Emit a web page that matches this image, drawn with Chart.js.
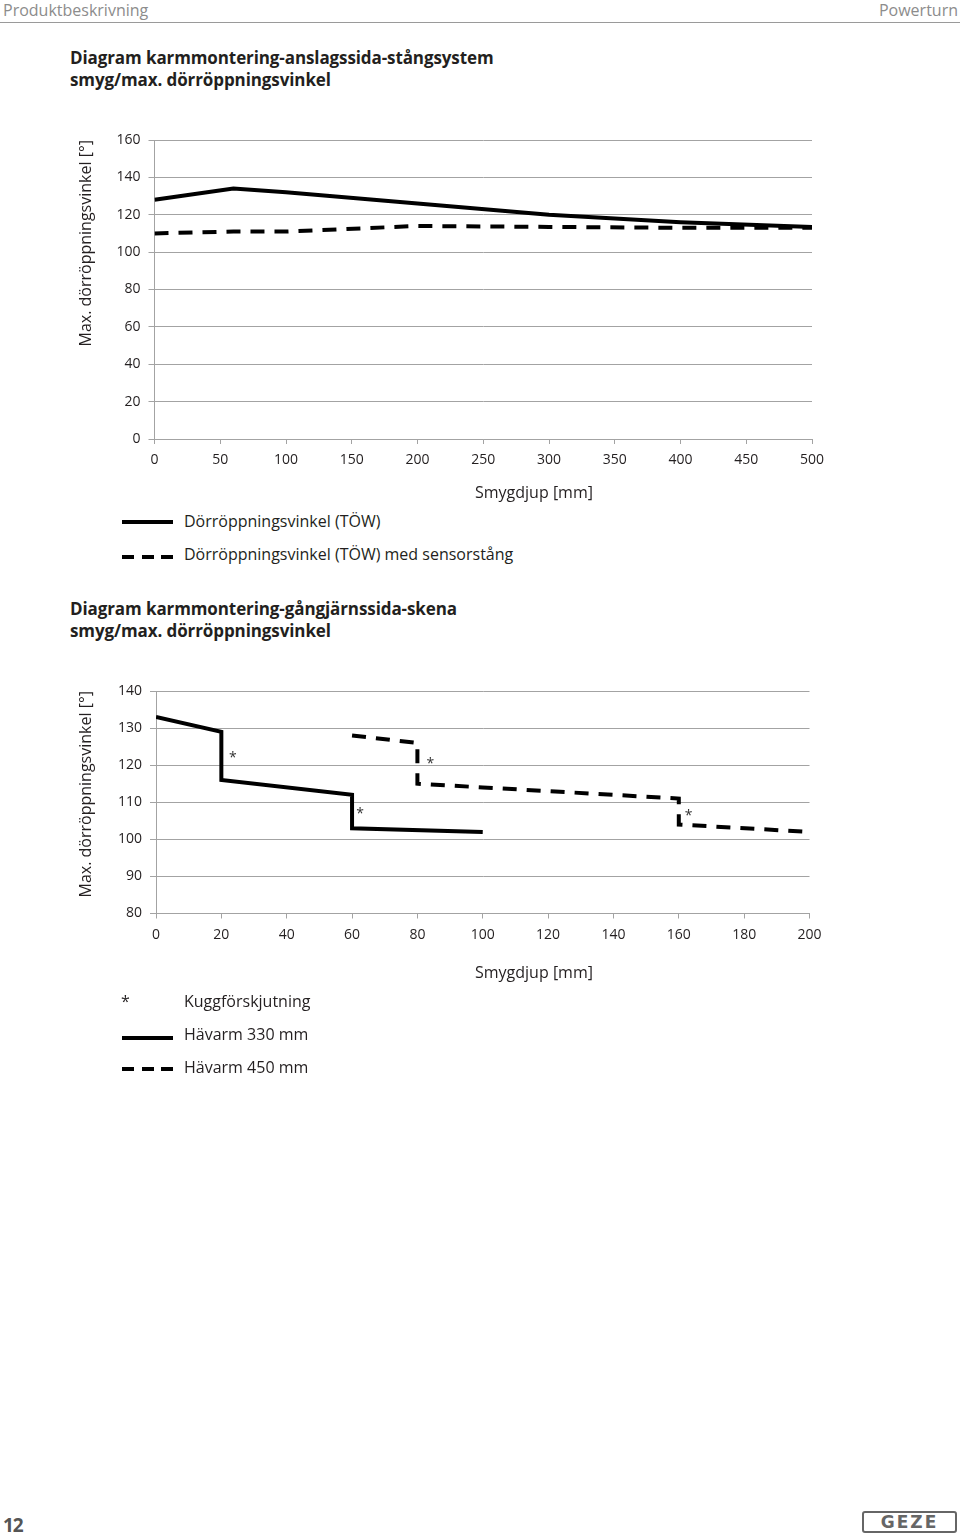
<!DOCTYPE html>
<html>
<head>
<meta charset="utf-8">
<script src="https://cdn.jsdelivr.net/npm/chart.js@4.4.0/dist/chart.umd.min.js"></script>
<style>
  body { margin: 0; background: #fff; font-family: "Open Sans", "Noto Sans", sans-serif; color: #231f20; }
  .page { position: relative; width: 960px; height: 1535px; overflow: hidden; }
  .abs { position: absolute; white-space: nowrap; }
  .head { font-size: 16px; color: #8c8c8c; top: 0; line-height: 20px; }
  .rule { left: 0; top: 22px; width: 960px; height: 1px; background: #9a9a9a; }
  .title { left: 70px; font-weight: 700; font-size: 17px; line-height: 22px; letter-spacing: -0.1px; }
  .txt { font-size: 16px; line-height: 20px; }
  .solid { height: 4px; width: 51px; background: #000; left: 122px; }
  .dash { height: 4px; width: 12px; background: #000; }
  canvas { position: absolute; left: 0; }
</style>
</head>
<body>
<div class="page">
  <div class="abs head" style="left:3px">Produktbeskrivning</div>
  <div class="abs head" style="right:2px">Powerturn</div>
  <div class="abs rule"></div>

  <div class="abs title" style="top:47px">Diagram karmmontering-anslagssida-stångsystem<br>smyg/max. dörröppningsvinkel</div>
  <canvas id="chart1" width="960" height="380" style="top:110px"></canvas>
  <div class="abs txt" style="left:475px;top:482px">Smygdjup [mm]</div>
  <div class="abs solid" style="top:520px"></div>
  <div class="abs txt" style="left:184px;top:511px">Dörröppningsvinkel (TÖW)</div>
  <div class="abs dash" style="left:122px;top:555px"></div>
  <div class="abs dash" style="left:142px;top:555px"></div>
  <div class="abs dash" style="left:161px;top:555px"></div>
  <div class="abs txt" style="left:184px;top:544px">Dörröppningsvinkel (TÖW) med sensorstång</div>

  <div class="abs title" style="top:598px">Diagram karmmontering-gångjärnssida-skena<br>smyg/max. dörröppningsvinkel</div>
  <canvas id="chart2" width="960" height="340" style="top:660px"></canvas>
  <div class="abs txt" style="left:475px;top:962px">Smygdjup [mm]</div>
  <div class="abs txt" style="left:121px;top:991px">*</div>
  <div class="abs txt" style="left:184px;top:991px">Kuggförskjutning</div>
  <div class="abs solid" style="top:1036px"></div>
  <div class="abs txt" style="left:184px;top:1024px">Hävarm 330 mm</div>
  <div class="abs dash" style="left:122px;top:1067px"></div>
  <div class="abs dash" style="left:142px;top:1067px"></div>
  <div class="abs dash" style="left:161px;top:1067px"></div>
  <div class="abs txt" style="left:184px;top:1057px">Hävarm 450 mm</div>

  <div class="abs" style="left:3px;top:1512px;font-size:19px;font-weight:700;color:#555;letter-spacing:-1px">12</div>
  <div class="abs" style="left:862px;top:1511px;width:91px;height:18px;border:2px solid #666;border-radius:3px;text-align:center;font:700 17px/18px 'DejaVu Sans',sans-serif;color:#666;letter-spacing:2px">GEZE</div>
</div>

<script>
// chart 1: anslagssida-stångsystem
const smygX1 = [0, 60, 100, 200, 300, 400, 500];
const towSolid = [128, 134, 132, 126, 120, 116, 113.5];
const towSensor = [110, 111, 111, 114, 113.5, 113, 113];
const yTicks1 = [0, 160, 20];
const xTicks1 = [0, 500, 50];

// chart 2: gångjärnssida-skena
const hav330X = [0, 20, 20, 60, 60, 100];
const hav330Y = [133, 129, 116, 112, 103, 102];
const hav450X = [60, 80, 80, 100, 160, 160, 200];
const hav450Y = [128, 126, 115, 114, 111, 104, 102];
const starX = [23.5, 62.5, 84, 163];
const starY = [123, 108, 121.5, 107.5];
const yTicks2 = [80, 140, 10];
const xTicks2 = [0, 200, 20];

const gridGray = "#a3a3a3";
const tickFont = { family: "'Open Sans', 'Noto Sans', sans-serif", size: 14 };
const titleFont = { family: "'Open Sans', 'Noto Sans', sans-serif", size: 16 };

function pts(xs, ys) {
    return xs.map((x, i) => ({ x: x, y: ys[i] }));
}

function lineSet(label, data, dashed) {
    return {
        label: label,
        data: data,
        borderColor: "#000",
        borderWidth: 4,
        borderDash: dashed ? [14, 10] : [],
        borderCapStyle: "butt",
        pointRadius: 0,
        tension: 0,
        fill: false
    };
}

const stars = {
    id: "stars",
    afterDatasetsDraw(chart, args, opts) {
        if (!opts.xs) return;
        const c = chart.ctx;
        c.save();
        c.fillStyle = "#333";
        c.font = "14px 'Open Sans', sans-serif";
        c.textAlign = "center";
        c.textBaseline = "alphabetic";
        opts.xs.forEach((v, i) => {
            const px = chart.scales.x.getPixelForValue(v);
            const py = chart.scales.y.getPixelForValue(opts.ys[i]);
            c.fillText("*", px, py + 8);
        });
        c.restore();
    }
};

function makeChart(id, datasets, xt, yt, pad, yWidth, starOpts) {
    return new Chart(document.getElementById(id).getContext("2d"), {
        type: "line",
        data: { datasets: datasets },
        plugins: [stars],
        options: {
            responsive: false,
            animation: false,
            devicePixelRatio: 1,
            layout: { padding: pad },
            plugins: {
                legend: { display: false },
                tooltip: { enabled: false },
                stars: starOpts
            },
            scales: {
                x: {
                    type: "linear",
                    min: xt[0], max: xt[1],
                    afterFit: s => { s.height = 30; },
                    grid: { drawOnChartArea: false, color: gridGray, tickLength: 5 },
                    border: { color: gridGray },
                    ticks: { stepSize: xt[2], color: "#231f20", font: tickFont, padding: 8, maxRotation: 0 }
                },
                y: {
                    min: yt[0], max: yt[1],
                    afterFit: s => { s.width = yWidth; },
                    grid: { color: gridGray, tickLength: 6 },
                    border: { color: gridGray },
                    ticks: { stepSize: yt[2], color: "#231f20", font: tickFont, padding: 8 },
                    title: {
                        display: true,
                        text: "Max. dörröppningsvinkel [°]",
                        align: "end",
                        color: "#231f20",
                        font: titleFont,
                        padding: { top: 0, bottom: 0 }
                    }
                }
            }
        }
    });
}

makeChart("chart1", [
    lineSet("Dörröppningsvinkel (TÖW)", pts(smygX1, towSolid), false),
    lineSet("Dörröppningsvinkel (TÖW) med sensorstång", pts(smygX1, towSensor), true)
], xTicks1, yTicks1, { left: 77, right: 148, top: 30, bottom: 21 }, 77.5, {});

makeChart("chart2", [
    lineSet("Hävarm 330 mm", pts(hav330X, hav330Y), false),
    lineSet("Hävarm 450 mm", pts(hav450X, hav450Y), true)
], xTicks2, yTicks2, { left: 77, right: 150.5, top: 31, bottom: 56.5 }, 79, { xs: starX, ys: starY });
</script>
</body>
</html>
